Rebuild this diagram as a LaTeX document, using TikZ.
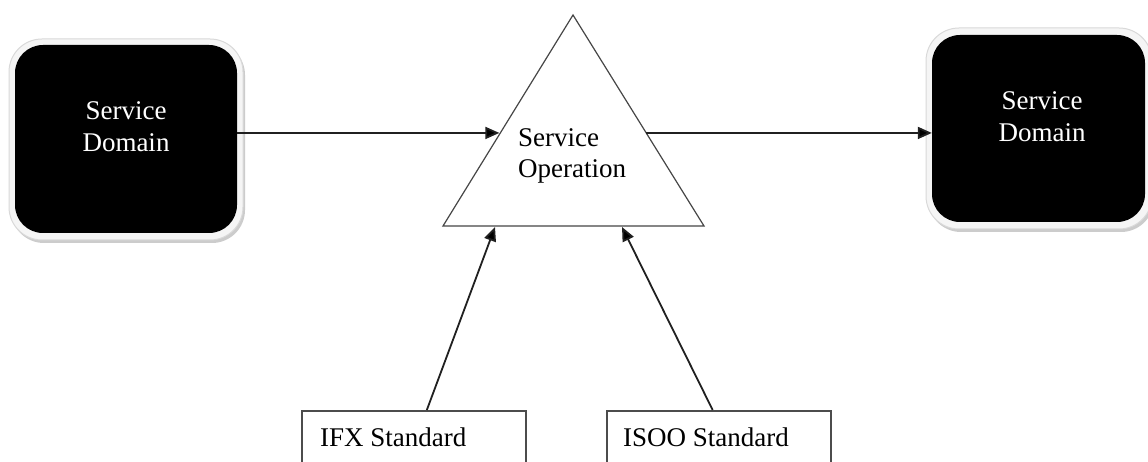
\documentclass[tikz,border=0pt]{standalone}
\usepackage{fontspec}
\setmainfont{Liberation Serif}
\usetikzlibrary{arrows.meta,calc}

\tikzset{
  every picture/.style={x=1pt,y=-1pt},
  txt/.style={inner sep=0pt,font=\fontsize{27}{32}\selectfont},
  halo/.style={fill=gray!8,draw=gray!30,line width=1pt,rounded corners=33pt},
  haloshadow/.style={fill=gray!40,rounded corners=33pt},
  domainbox/.style={fill=black,draw=none,rounded corners=28pt,inner sep=0pt},
  stdbox/.style={draw=gray!60!black,line width=1.5pt,fill=white,inner sep=0pt},
  tri/.style={draw=gray!55!black,line width=1.2pt,fill=white,line join=miter},
  flow/.style={draw=gray!25!black,line width=1.8pt,
    -{Triangle[length=14pt,width=12pt,fill=black]}},
}

\begin{document}
\begin{tikzpicture}
\useasboundingbox (0,0) rectangle (1148,462);
\clip (0,0) rectangle (1148,462);
\fill[white] (0,0) rectangle (1148,462);

% left service domain
\fill[haloshadow] (11,42) rectangle (245,243);
\path[halo] (9,39) rectangle (243,240);
\node[domainbox,minimum width=222pt,minimum height=188pt] (sdL) at (126,139) {};
\node[txt,text=white,align=center] (sdLtext) at (126,126.3) {Service\\Domain};

% right service domain
\fill[haloshadow] (928,31) rectangle (1154,232);
\path[halo] (926,28) rectangle (1152,229);
\node[domainbox,minimum width=213pt,minimum height=187pt] (sdR) at (1038.5,128.5) {};
\node[txt,text=white,align=center] (sdRtext) at (1042,116.3) {Service\\Domain};

% service operation triangle
\coordinate (apex) at (573,15);
\coordinate (bl) at (443,226);
\coordinate (br) at (704,226);
\draw[tri] (apex) -- (bl) -- (br) -- cycle;
\node[txt,align=left,anchor=north west,font=\fontsize{27}{31}\selectfont] (op) at (518,128.6) {Service\\Operation};

% standards
\node[stdbox,minimum width=224pt,minimum height=80pt,anchor=north west] (ifx) at (301,410) {};
\node[txt,anchor=base west] (ifxtext) at (320,446) {IFX Standard};
\node[stdbox,minimum width=224pt,minimum height=80pt,anchor=north west] (isoo) at (606,410) {};
\node[txt,anchor=base west] (isootext) at (623,446) {ISOO Standard};

% connector ends
\coordinate (inL)  at ($(apex)!0.559!(bl)$);
\coordinate (outR) at ($(apex)!0.559!(br)$);
\coordinate (inB1) at (495,227);
\coordinate (inB2) at (622,227);
\coordinate (ifxtop)  at ($(ifx.north west)!0.558!(ifx.north east)$);
\coordinate (isootop) at ($(isoo.north west)!0.473!(isoo.north east)$);

% flows
\draw[flow] (sdL.east |- inL) -- ([xshift=-1pt]inL);
\draw[flow] (outR) -- (sdR.west |- outR);
\draw[flow] (ifxtop) -- (inB1);
\draw[flow] (isootop) -- (inB2);
\end{tikzpicture}
\end{document}
